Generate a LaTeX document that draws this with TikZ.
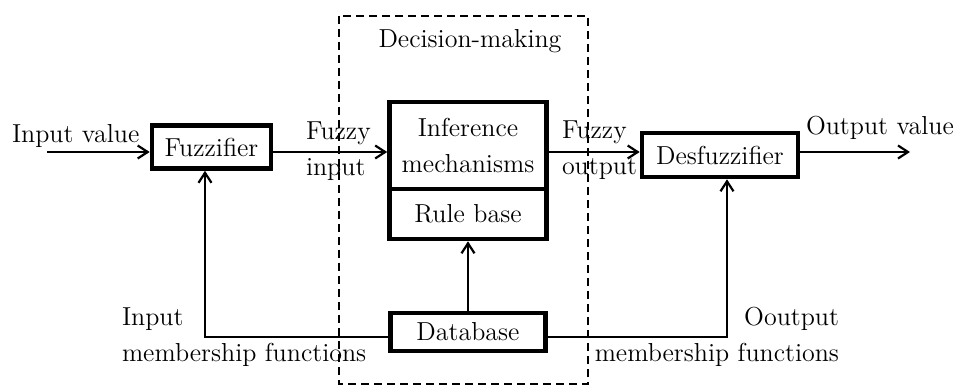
\documentclass[tikz,border=0pt]{standalone}
\usetikzlibrary{arrows.meta}
\begin{document}
\begin{tikzpicture}[x=0.5pt,y=-0.5pt,style={font=\fontsize{13}{18}\selectfont},
  blk/.style={draw,line width=2.3pt,inner sep=0pt,outer sep=1.15pt},
  lbl/.style={inner sep=0pt,outer sep=0pt},
  arr/.style={line width=1.1pt,-{Straight Barb[length=5pt,width=6.5pt]}}]
\useasboundingbox (0,0) rectangle (954,385);
%\draw[thick,dashed] (0,0) rectangle (954,385);
\draw[line width=0.9pt,dash pattern=on 4pt off 2.5pt] (339,16) rectangle (588,384);
\node[lbl,anchor=base] (dm) at (470,48) {Decision-making};
\node[blk,minimum width=59.5pt,minimum height=21.5pt] (fuzz) at (211.5,147) {Fuzzifier};
\node[blk,minimum width=78.5pt,minimum height=43.5pt,align=center] (infer) at (468,145.5) {Inference\\mechanisms};
\node[blk,minimum width=78.5pt,minimum height=25pt] (rule) at (468,214) {Rule base};
\node[blk,minimum width=78pt,minimum height=22pt] (desfuzz) at (720,155) {Desfuzzifier};
\node[blk,minimum width=77.5pt,minimum height=19pt] (db) at (468,332) {Database};
\coordinate (in) at (47,152);
\coordinate (out) at (910,152);
\coordinate (lc) at (205,337);
\coordinate (rc) at (727,337);
\draw[arr] (in) -- (in -| fuzz.west);
\draw[arr] (fuzz.east |- in) -- (infer.west |- in);
\draw[arr] (infer.east |- in) -- (desfuzz.west |- in);
\draw[arr] (desfuzz.east |- in) -- (out);
\draw[arr] (db.north) -- (rule.south);
\draw[arr] (db.west |- lc) -- (lc) -- (lc |- fuzz.south);
\draw[arr] (db.east |- rc) -- (rc) -- (rc |- desfuzz.south);
\node[lbl,anchor=base west] (inval) at (12,143) {Input value};
\node[lbl,anchor=base west] (outval) at (806,135) {Output value};
\node[lbl,anchor=north west,align=left] (fin) at (306,122) {Fuzzy\\input};
\node[lbl,anchor=north west,align=left] (fout) at (562,121) {Fuzzy\\output};
\node[lbl,anchor=north west,align=left] (inmf) at (122,308) {Input\\membership functions};
\node[lbl,anchor=north east,align=right] (outmf) at (839,307) {Ooutput\\membership functions};
\end{tikzpicture}
\end{document}
